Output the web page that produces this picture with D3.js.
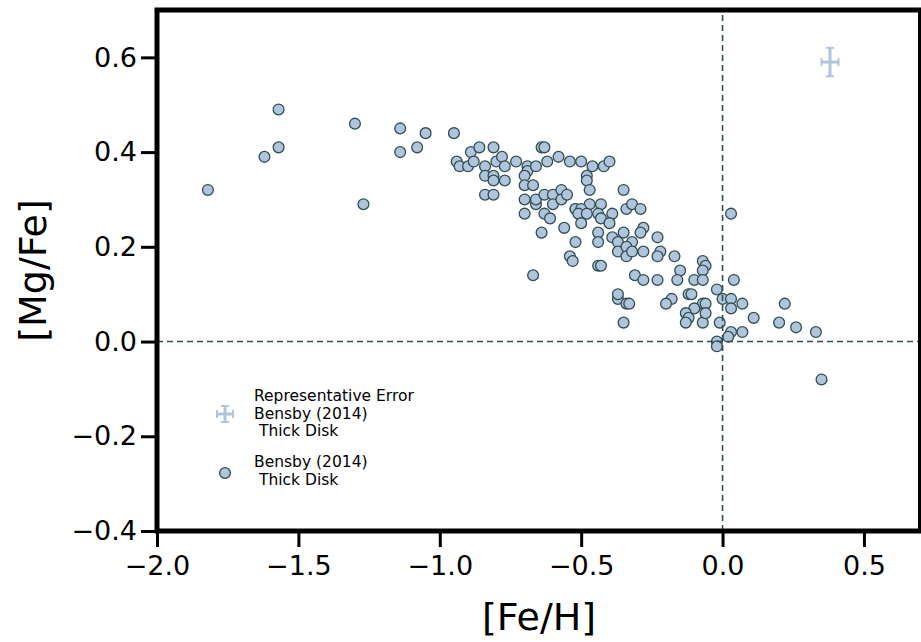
<!DOCTYPE html>
<html lang="en">
  <head>
    <meta charset="UTF-8" />
    <title>Bensby thick disk [Mg/Fe] vs [Fe/H]</title>
    <script src="https://d3js.org/d3.v7.min.js"></script>
    <style>
      body { margin: 0; background: #fff; }
      text { font-family: "DejaVu Sans", sans-serif; }
    </style>
  </head>
  <body>
    <svg width="921" height="642"></svg>
    <script>
      // Bensby (2014) thick disk stars
      const feH = [
        -1.82, -1.62, -1.57, -1.57, -1.30, -1.27, -1.14, -1.14, -1.08, -1.05, -0.95,
        -0.94, -0.93, -0.90, -0.89, -0.88, -0.86, -0.84, -0.84, -0.84, -0.81, -0.81,
        -0.81, -0.81, -0.80, -0.78, -0.77, -0.77, -0.73, -0.69, -0.69, -0.70, -0.66,
        -0.70, -0.67, -0.70, -0.70, -0.66, -0.66, -0.64, -0.63, -0.62, -0.58, -0.54,
        -0.63, -0.60, -0.60, -0.57, -0.57, -0.55, -0.63, -0.61, -0.64, -0.56, -0.52,
        -0.52, -0.54, -0.53, -0.67,
        -0.50, -0.46, -0.42, -0.40, -0.48, -0.48, -0.47, -0.35, -0.47, -0.43, -0.52,
        -0.50, -0.51, -0.48, -0.50, -0.44, -0.43, -0.39, -0.40, -0.44, -0.44, -0.34,
        -0.32, -0.29, -0.28, -0.29, -0.35, -0.39, -0.37, -0.32, -0.23, -0.44, -0.43,
        -0.37, -0.34, -0.34, -0.32, -0.28, -0.22, -0.23, -0.17, -0.31, -0.28, -0.23,
        -0.37, -0.37, -0.34, -0.33, -0.35,
        -0.07, -0.06, -0.07, -0.15, -0.16, -0.10, -0.07, -0.02, 0.04, 0.03, -0.12,
        -0.11, -0.18, -0.20, -0.07, -0.06, 0.00, 0.03, 0.03, 0.07, 0.11, 0.22, 0.20,
        0.26, 0.33, -0.10, -0.13, -0.12, -0.13, -0.07, -0.06, -0.01, 0.03, 0.07,
        0.02, -0.02, -0.02, 0.35
      ];
      const mgFe = [
        0.32, 0.39, 0.49, 0.41, 0.46, 0.29, 0.45, 0.40, 0.41, 0.44, 0.44,
        0.38, 0.37, 0.37, 0.40, 0.38, 0.41, 0.37, 0.35, 0.31, 0.41, 0.35,
        0.34, 0.31, 0.38, 0.39, 0.37, 0.34, 0.38, 0.37, 0.36, 0.35, 0.37,
        0.33, 0.33, 0.30, 0.27, 0.29, 0.30, 0.41, 0.41, 0.38, 0.39, 0.38,
        0.31, 0.31, 0.29, 0.32, 0.30, 0.31, 0.27, 0.26, 0.23, 0.24, 0.28,
        0.21, 0.18, 0.17, 0.14,
        0.38, 0.37, 0.37, 0.38, 0.35, 0.34, 0.32, 0.32, 0.29, 0.29, 0.28,
        0.28, 0.27, 0.27, 0.25, 0.27, 0.26, 0.27, 0.25, 0.23, 0.21, 0.28,
        0.29, 0.28, 0.24, 0.23, 0.23, 0.22, 0.21, 0.21, 0.22, 0.16, 0.16,
        0.19, 0.20, 0.18, 0.19, 0.19, 0.19, 0.18, 0.18, 0.14, 0.13, 0.13,
        0.09, 0.10, 0.08, 0.08, 0.04,
        0.17, 0.16, 0.15, 0.15, 0.13, 0.13, 0.13, 0.11, 0.13, 0.27, 0.10,
        0.10, 0.09, 0.08, 0.08, 0.08, 0.09, 0.09, 0.07, 0.08, 0.05, 0.08, 0.04,
        0.03, 0.02, 0.07, 0.06, 0.05, 0.04, 0.04, 0.06, 0.04, 0.02, 0.02,
        0.01, 0.00, -0.01, -0.08
      ];

      // representative error bar
      const errPoint = { x: 0.38, y: 0.59, xerr: 0.03, yerr: 0.03 };

      const xTicks = [-2.0, -1.5, -1.0, -0.5, 0.0, 0.5];
      const yTicks = [-0.4, -0.2, 0.0, 0.2, 0.4, 0.6];

      const legendLabels = [
        ["Representative Error", "Bensby (2014)", " Thick Disk"],
        ["Bensby (2014)", " Thick Disk"]
      ];

      const svg = d3.select("svg");
      const margin = { left: 157, right: 0.5, top: 10, bottom: 111 };
      const W = 921, H = 642;

      const x = d3.scaleLinear().domain([-2.0, 0.7]).range([margin.left, W - margin.right]);
      const y = d3.scaleLinear().domain([-0.4, 0.7]).range([H - margin.bottom, margin.top]);

      const fill = "#b0c4de";
      const edge = "#2f4f4f";
      const fmt = d => d3.format(".1f")(d).replace("-", "\u2212");

      // points
      svg.append("g")
        .selectAll("circle")
        .data(feH.map((d, i) => [d, mgFe[i]]))
        .join("circle")
        .attr("cx", d => x(d[0]))
        .attr("cy", d => y(d[1]))
        .attr("r", 5.4)
        .attr("fill", fill)
        .attr("stroke", edge)
        .attr("stroke-width", 1.3);

      // zero lines
      svg.append("line")
        .attr("x1", x(0)).attr("x2", x(0))
        .attr("y1", y(-0.4)).attr("y2", y(0.7))
        .attr("stroke", edge).attr("stroke-width", 1.6)
        .attr("stroke-dasharray", "6,4");
      svg.append("line")
        .attr("x1", x(-2)).attr("x2", x(0.7))
        .attr("y1", y(0)).attr("y2", y(0))
        .attr("stroke", edge).attr("stroke-width", 1.6)
        .attr("stroke-dasharray", "6,4");

      // error bar
      function errorBar(g, cx, cy, dx, dy) {
        const c = g.append("g").attr("stroke", fill).attr("stroke-width", 3);
        c.append("line").attr("x1", cx - dx).attr("x2", cx + dx).attr("y1", cy).attr("y2", cy);
        c.append("line").attr("x1", cx).attr("x2", cx).attr("y1", cy - dy).attr("y2", cy + dy);
        c.append("line").attr("x1", cx - dx).attr("x2", cx - dx).attr("y1", cy - 4).attr("y2", cy + 4).attr("stroke-width", 2);
        c.append("line").attr("x1", cx + dx).attr("x2", cx + dx).attr("y1", cy - 4).attr("y2", cy + 4).attr("stroke-width", 2);
        c.append("line").attr("x1", cx - 4).attr("x2", cx + 4).attr("y1", cy - dy).attr("y2", cy - dy).attr("stroke-width", 2);
        c.append("line").attr("x1", cx - 4).attr("x2", cx + 4).attr("y1", cy + dy).attr("y2", cy + dy).attr("stroke-width", 2);
      }
      errorBar(svg,
        x(errPoint.x), y(errPoint.y),
        x(errPoint.x + errPoint.xerr) - x(errPoint.x),
        y(errPoint.y) - y(errPoint.y + errPoint.yerr));

      // axes
      const xAxis = svg.append("g")
        .attr("transform", `translate(0,${H - margin.bottom})`)
        .call(d3.axisBottom(x).tickValues(xTicks).tickFormat(fmt).tickSize(16).tickPadding(9));
      const yAxis = svg.append("g")
        .attr("transform", `translate(${margin.left},0)`)
        .call(d3.axisLeft(y).tickValues(yTicks).tickFormat(fmt).tickSize(16).tickPadding(4));
      [xAxis, yAxis].forEach(a => {
        a.select(".domain").remove();
        a.selectAll(".tick line").attr("stroke", "#000").attr("stroke-width", 3);
        a.selectAll(".tick text")
          .attr("font-size", 27)
          .attr("fill", "#000")
          .style("font-family", "DejaVu Sans");
      });

      // frame
      svg.append("rect")
        .attr("x", margin.left).attr("y", margin.top)
        .attr("width", W - margin.right - margin.left)
        .attr("height", H - margin.bottom - margin.top)
        .attr("fill", "none").attr("stroke", "#000").attr("stroke-width", 5);

      // axis titles
      svg.append("text")
        .attr("x", (margin.left + W) / 2).attr("y", 630)
        .attr("text-anchor", "middle").attr("font-size", 38)
        .text("[Fe/H]");
      svg.append("text")
        .attr("transform", `translate(46,${(margin.top + H - margin.bottom) / 2}) rotate(-90)`)
        .attr("text-anchor", "middle").attr("font-size", 38)
        .text("[Mg/Fe]");

      // legend
      const lg = svg.append("g").attr("font-size", 15.5);
      errorBar(lg, 225, 414, 8, 8);
      legendLabels[0].forEach((t, i) => {
        lg.append("text").attr("x", 254).attr("y", 401 + i * 17.5).attr("xml:space", "preserve").text(t);
      });
      lg.append("circle").attr("cx", 225).attr("cy", 473).attr("r", 5.4)
        .attr("fill", fill).attr("stroke", edge).attr("stroke-width", 1.3);
      legendLabels[1].forEach((t, i) => {
        lg.append("text").attr("x", 254).attr("y", 467 + i * 17.5).attr("xml:space", "preserve").text(t);
      });
    </script>
  </body>
</html>
